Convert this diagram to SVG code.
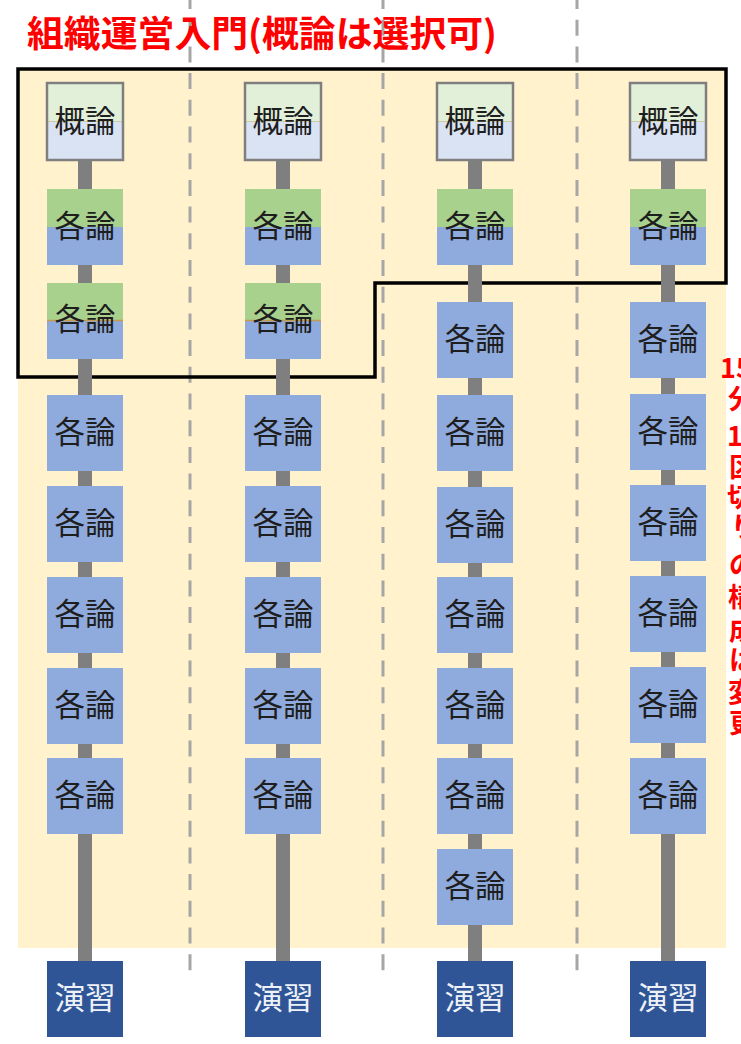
<svg xmlns="http://www.w3.org/2000/svg" width="741" height="1044" viewBox="0 0 741 1044">
<style>
  .bg{fill:#FFF2CC}
  .frame{fill:none;stroke:#000;stroke-width:3.5}
  .dash{stroke:#A6A6A6;stroke-width:3;stroke-dasharray:16 10.7;fill:none}
  .bar{fill:#7F7F7F}
  .t{font-family:"Noto Sans CJK JP","Noto Sans CJK SC",sans-serif;font-size:30.5px;text-anchor:middle;fill:#1E1E1E}
  .tw{font-family:"Noto Sans CJK JP","Noto Sans CJK SC",sans-serif;font-size:30.5px;text-anchor:middle;fill:#EEF2F8}
  .gtop{fill:#E2F0D9}
  .gbot{fill:#DAE3F3}
  .gbor{fill:none;stroke:#7F7F7F;stroke-width:2.5}
  .kt{fill:#A9D18E}
  .kb{fill:#8FAADC}
  .ex{fill:#2F5597}
  .sp1{stroke:#CFCBA0;stroke-width:1}
  .sp2{stroke:#C59B4E;stroke-width:1.5}
  .title{font-family:"Noto Sans CJK JP","Noto Sans CJK SC",sans-serif;font-weight:bold;font-size:36px;fill:#FF0000}
  .side{font-family:"Noto Sans CJK JP","Noto Sans CJK SC",sans-serif;font-weight:bold;font-size:27px;fill:#FF0000}
</style>

<rect class="bg" x="18" y="68" width="708" height="880"/>

<g id="dividers">
  <line class="dash" x1="190" y1="-7" x2="190" y2="971"/>
  <line class="dash" x1="383" y1="-7" x2="383" y2="971"/>
  <line class="dash" x1="577" y1="-7" x2="577" y2="971"/>
</g>

<path id="selection-frame" class="frame" d="M18,69 H726 V283 H375 V377 H18 Z"/>

<text id="title" class="title" x="27" y="47" textLength="470" lengthAdjust="spacingAndGlyphs">組織運営入門(概論は選択可)</text>

<g id="side-note">
  <text class="side" x="720" y="378">15</text>
  <text class="side" x="728" y="409">分</text>
  <text class="side" x="727" y="446">1</text>
  <text class="side" x="729" y="477">区</text>
  <text class="side" x="727" y="507">切</text>
  <text class="side" x="731" y="537">り</text>
  <text class="side" x="729" y="575">の</text>
  <text class="side" x="728" y="607">構</text>
  <text class="side" x="729" y="640">成</text>
  <text class="side" x="729" y="670">は</text>
  <text class="side" x="728" y="702">変</text>
  <text class="side" x="729" y="733">更</text>
</g>

<g id="connectors">
  <rect class="bar" x="78" y="160" width="14" height="801"/>
  <rect class="bar" x="276" y="160" width="14" height="801"/>
  <rect class="bar" x="468" y="160" width="14" height="801"/>
  <rect class="bar" x="661" y="160" width="14" height="801"/>
</g>

<!-- Column 1 -->
<g id="c1-gairon">
  <rect class="gtop" x="47" y="83" width="76" height="38.5"/>
  <rect class="gbot" x="47" y="121.5" width="76" height="38.5"/>
  <line class="sp1" x1="47" y1="121.5" x2="123" y2="121.5"/>
  <rect class="gbor" x="47" y="83" width="76" height="77"/>
  <text class="t" x="85" y="132">概論</text>
</g>
<g id="c1-k1">
  <rect class="kt" x="47" y="189" width="76" height="38"/>
  <rect class="kb" x="47" y="227" width="76" height="38"/>
  <text class="t" x="85" y="237">各論</text>
</g>
<g id="c1-k2">
  <rect class="kt" x="47" y="283" width="76" height="38"/>
  <rect class="kb" x="47" y="321" width="76" height="38"/>
  <line class="sp2" x1="47" y1="320.5" x2="123" y2="320.5"/>
  <text class="t" x="85" y="330">各論</text>
</g>
<g id="c1-k3"><rect class="kb" x="47" y="395" width="76" height="76"/><text class="t" x="85" y="443">各論</text></g>
<g id="c1-k4"><rect class="kb" x="47" y="486" width="76" height="76"/><text class="t" x="85" y="534">各論</text></g>
<g id="c1-k5"><rect class="kb" x="47" y="577" width="76" height="76"/><text class="t" x="85" y="625">各論</text></g>
<g id="c1-k6"><rect class="kb" x="47" y="668" width="76" height="76"/><text class="t" x="85" y="716">各論</text></g>
<g id="c1-k7"><rect class="kb" x="47" y="758" width="76" height="76"/><text class="t" x="85" y="806">各論</text></g>
<g id="c1-enshu"><rect class="ex" x="47" y="961" width="76" height="76"/><text class="tw" x="85" y="1009">演習</text></g>

<!-- Column 2 -->
<g id="c2-gairon">
  <rect class="gtop" x="245" y="83" width="76" height="38.5"/>
  <rect class="gbot" x="245" y="121.5" width="76" height="38.5"/>
  <line class="sp1" x1="245" y1="121.5" x2="321" y2="121.5"/>
  <rect class="gbor" x="245" y="83" width="76" height="77"/>
  <text class="t" x="283" y="132">概論</text>
</g>
<g id="c2-k1">
  <rect class="kt" x="245" y="189" width="76" height="38"/>
  <rect class="kb" x="245" y="227" width="76" height="38"/>
  <text class="t" x="283" y="237">各論</text>
</g>
<g id="c2-k2">
  <rect class="kt" x="245" y="283" width="76" height="38"/>
  <rect class="kb" x="245" y="321" width="76" height="38"/>
  <line class="sp2" x1="245" y1="320.5" x2="321" y2="320.5"/>
  <text class="t" x="283" y="330">各論</text>
</g>
<g id="c2-k3"><rect class="kb" x="245" y="395" width="76" height="76"/><text class="t" x="283" y="443">各論</text></g>
<g id="c2-k4"><rect class="kb" x="245" y="486" width="76" height="76"/><text class="t" x="283" y="534">各論</text></g>
<g id="c2-k5"><rect class="kb" x="245" y="577" width="76" height="76"/><text class="t" x="283" y="625">各論</text></g>
<g id="c2-k6"><rect class="kb" x="245" y="668" width="76" height="76"/><text class="t" x="283" y="716">各論</text></g>
<g id="c2-k7"><rect class="kb" x="245" y="758" width="76" height="76"/><text class="t" x="283" y="806">各論</text></g>
<g id="c2-enshu"><rect class="ex" x="245" y="961" width="76" height="76"/><text class="tw" x="283" y="1009">演習</text></g>

<!-- Column 3 -->
<g id="c3-gairon">
  <rect class="gtop" x="437" y="83" width="76" height="38.5"/>
  <rect class="gbot" x="437" y="121.5" width="76" height="38.5"/>
  <line class="sp1" x1="437" y1="121.5" x2="513" y2="121.5"/>
  <rect class="gbor" x="437" y="83" width="76" height="77"/>
  <text class="t" x="475" y="132">概論</text>
</g>
<g id="c3-k1">
  <rect class="kt" x="437" y="189" width="76" height="38"/>
  <rect class="kb" x="437" y="227" width="76" height="38"/>
  <text class="t" x="475" y="237">各論</text>
</g>
<g id="c3-k2"><rect class="kb" x="437" y="302" width="76" height="76"/><text class="t" x="475" y="350">各論</text></g>
<g id="c3-k3"><rect class="kb" x="437" y="395" width="76" height="76"/><text class="t" x="475" y="443">各論</text></g>
<g id="c3-k4"><rect class="kb" x="437" y="487" width="76" height="76"/><text class="t" x="475" y="535">各論</text></g>
<g id="c3-k5"><rect class="kb" x="437" y="577" width="76" height="76"/><text class="t" x="475" y="625">各論</text></g>
<g id="c3-k6"><rect class="kb" x="437" y="668" width="76" height="76"/><text class="t" x="475" y="716">各論</text></g>
<g id="c3-k7"><rect class="kb" x="437" y="758" width="76" height="76"/><text class="t" x="475" y="806">各論</text></g>
<g id="c3-k8"><rect class="kb" x="437" y="849" width="76" height="76"/><text class="t" x="475" y="897">各論</text></g>
<g id="c3-enshu"><rect class="ex" x="437" y="961" width="76" height="76"/><text class="tw" x="475" y="1009">演習</text></g>

<!-- Column 4 -->
<g id="c4-gairon">
  <rect class="gtop" x="630" y="83" width="76" height="38.5"/>
  <rect class="gbot" x="630" y="121.5" width="76" height="38.5"/>
  <line class="sp1" x1="630" y1="121.5" x2="706" y2="121.5"/>
  <rect class="gbor" x="630" y="83" width="76" height="77"/>
  <text class="t" x="668" y="132">概論</text>
</g>
<g id="c4-k1">
  <rect class="kt" x="630" y="189" width="76" height="38"/>
  <rect class="kb" x="630" y="227" width="76" height="38"/>
  <text class="t" x="668" y="237">各論</text>
</g>
<g id="c4-k2"><rect class="kb" x="630" y="302" width="76" height="76"/><text class="t" x="668" y="350">各論</text></g>
<g id="c4-k3"><rect class="kb" x="630" y="394" width="76" height="76"/><text class="t" x="668" y="442">各論</text></g>
<g id="c4-k4"><rect class="kb" x="630" y="485" width="76" height="76"/><text class="t" x="668" y="533">各論</text></g>
<g id="c4-k5"><rect class="kb" x="630" y="576" width="76" height="76"/><text class="t" x="668" y="624">各論</text></g>
<g id="c4-k6"><rect class="kb" x="630" y="667" width="76" height="76"/><text class="t" x="668" y="715">各論</text></g>
<g id="c4-k7"><rect class="kb" x="630" y="758" width="76" height="76"/><text class="t" x="668" y="806">各論</text></g>
<g id="c4-enshu"><rect class="ex" x="630" y="961" width="76" height="76"/><text class="tw" x="668" y="1009">演習</text></g>
</svg>
